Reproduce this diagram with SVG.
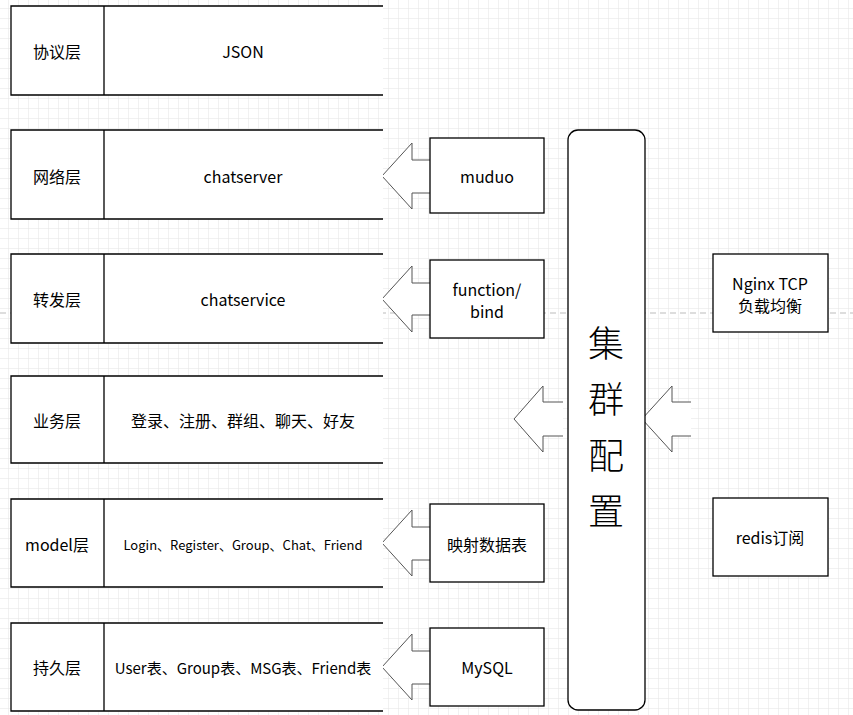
<svg xmlns="http://www.w3.org/2000/svg" width="853" height="715" viewBox="0 0 853 715">
<defs>
<pattern id="g" width="10" height="10" patternUnits="userSpaceOnUse" x="8" y="8"><path d="M0 0H10M0 0V10" fill="none" stroke="#e4e4e4" stroke-width="1"/></pattern>
<style>
text{font-family:"Noto Sans CJK SC","Noto Sans",sans-serif;fill:#000;text-anchor:middle;dominant-baseline:central}
.t{font-size:16px}
.b{fill:#fff;stroke:#000;stroke-width:1.3}
.a{fill:#fff;stroke:#555;stroke-width:1}
</style>
</defs>
<rect width="853" height="715" fill="#fff"/>
<rect width="853" height="715" fill="url(#g)"/>
<line x1="0" y1="313" x2="853" y2="313" stroke="#bbb" stroke-dasharray="6 4"/>
<g id="connectors">
<path class="a" d="M430 160H412V143L382 176L412 209V193H430"/>
<path class="a" d="M430 283H412V266L382 299L412 332V315H430"/>
<path class="a" d="M563 402H543V386L514 419L543 452V436H563"/>
<path class="a" d="M691 402H672V386L642 419L672 452V436H691"/>
<path class="a" d="M430 527H412V510L382 543L412 576V560H430"/>
<path class="a" d="M430 651H412V634L382 667L412 700V684H430"/>
</g>
<g id="row1"><path class="b" d="M383 6H11V95H383M104 6V95"/><text class="t" x="57" y="51">协议层</text><text class="t" x="243" y="51">JSON</text></g>
<g id="row2"><path class="b" d="M383 130H11V219H383M104 130V219"/><text class="t" x="57" y="176">网络层</text><text class="t" x="243" y="176">chatserver</text></g>
<g id="row3"><path class="b" d="M383 254H11V343H383M104 254V343"/><text class="t" x="57" y="299">转发层</text><text class="t" x="243" y="299">chatservice</text></g>
<g id="row4"><path class="b" d="M383 376H11V463H383M104 376V463"/><text class="t" x="57" y="420">业务层</text><text class="t" x="243" y="420">登录、注册、群组、聊天、好友</text></g>
<g id="row5"><path class="b" d="M383 499H11V587H383M104 499V587"/><text class="t" x="57" y="544">model层</text><text x="243" y="544" font-size="13">Login、Register、Group、Chat、Friend</text></g>
<g id="row6"><path class="b" d="M383 623H11V711H383M104 623V711"/><text class="t" x="57" y="667">持久层</text><text x="243" y="667" font-size="15">User表、Group表、MSG表、Friend表</text></g>
<g id="muduo"><rect class="b" x="430" y="138" width="114" height="75"/><text class="t" x="487" y="176">muduo</text></g>
<g id="function"><rect class="b" x="430" y="260" width="114" height="78"/><text class="t" x="487" y="289">function/</text><text class="t" x="487" y="311">bind</text></g>
<g id="mapping"><rect class="b" x="430" y="504" width="114" height="78"/><text class="t" x="487" y="544">映射数据表</text></g>
<g id="mysql"><rect class="b" x="430" y="628" width="114" height="78"/><text class="t" x="487" y="667">MySQL</text></g>
<g id="cluster"><rect class="b" x="568" y="130" width="77" height="580" rx="10"/>
<text x="606" y="341" font-size="36" font-weight="300">集</text><text x="606" y="397" font-size="36" font-weight="300">群</text><text x="606" y="453" font-size="36" font-weight="300">配</text><text x="606" y="509" font-size="36" font-weight="300">置</text></g>
<g id="nginx"><rect class="b" x="713" y="254" width="115" height="78"/><text class="t" x="770" y="283">Nginx TCP</text><text class="t" x="770" y="305">负载均衡</text></g>
<g id="redis"><rect class="b" x="713" y="498" width="115" height="78"/><text class="t" x="770" y="537">redis订阅</text></g>
</svg>
